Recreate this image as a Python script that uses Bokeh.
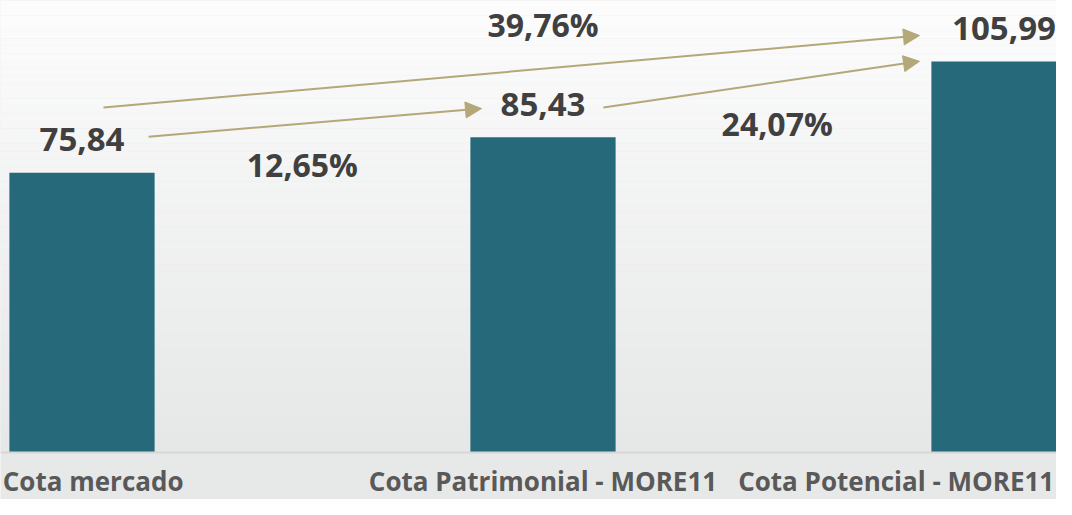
from bokeh.plotting import figure
from bokeh.models import Range1d, Arrow, NormalHead, Span, ColumnDataSource
from bokeh.core.properties import value
from bokeh.embed import file_html
from bokeh.resources import INLINE
import numpy as np

# ---- data ----
categories = ["Cota mercado", "Cota Patrimonial - MORE11", "Cota Potencial - MORE11"]
values = [75.84, 85.43, 105.99]
value_labels = ["75,84", "85,43", "105,99"]
pct_labels = ["12,65%", "39,76%", "24,07%"]

FONT = "Open Sans"
BAR = "#26697a"
TXT = "#404040"
CAT = "#595959"
ARW = "#b4a878"

W, H = 1056, 499
# pixel mapping: x_px = 81.5 + 461*d ; y_px = 452 - 3.69*v
x0 = (0 - 81.5) / 461
x1 = (W - 81.5) / 461
yt = (452 - 0) / 3.69
yb = (452 - H) / 3.69

p = figure(width=W, height=H, output_backend="svg", toolbar_location=None,
           x_range=Range1d(x0, x1), y_range=Range1d(yb, yt),
           min_border=0)
p.axis.visible = False
p.grid.visible = False
p.outline_line_color = None
p.background_fill_color = "#e7e8e8"
p.border_fill_color = "#ffffff"

# background gradient (decoration)
nb = 60
edges = np.linspace(0.0, yt, nb + 1)
c_top = np.array([253, 253, 253])
c_bot = np.array([230, 231, 231])
cols = []
for i in range(nb):
    t = (i + 0.5) / nb
    c = (c_bot + (c_top - c_bot) * t).astype(int)
    cols.append("#%02x%02x%02x" % tuple(c))
p.quad(left=-1, right=3, bottom=edges[:-1], top=edges[1:], fill_color=cols,
       line_color=None)

xs = list(range(len(categories)))
src = ColumnDataSource(dict(x=xs, top=values, vl=value_labels, cat=categories))

p.vbar(x="x", top="top", width=0.315, source=src, fill_color=BAR, line_color=None)
p.add_layout(Span(location=0, dimension="width", line_color="#d6d7d7", line_width=2))

p.text(x="x", y="top", text="vl", source=src, y_offset=-33,
       text_align="center", text_baseline="alphabetic",
       text_font=value(FONT), text_font_style="bold", text_font_size="33px",
       text_color=TXT)

# category labels (kept inside the canvas)
cat_y = -7.6
cat_style = dict(text_baseline="alphabetic", text_font=value(FONT),
                 text_font_style="bold", text_font_size="26px", text_color=CAT)
p.text(x=[x0 + 0.005], y=[cat_y], text=[categories[0]], text_align="left", **cat_style)
p.text(x=[1], y=[cat_y], text=[categories[1]], text_align="center", **cat_style)
p.text(x=[x1 - 0.005], y=[cat_y], text=[categories[2]], text_align="right", **cat_style)

# percentage labels
pct_x = [0.478, 1.0, 1.508]
pct_y = [78.1, 116.0, 89.2]
p.text(x=pct_x, y=pct_y, text=pct_labels,
       text_align="center", text_baseline="alphabetic",
       text_font=value(FONT), text_font_style="bold", text_font_size="32px",
       text_color=TXT)

# arrows
arrows = [
    (0.0466, 93.5, 1.8167, 113.0),
    (0.1443, 85.6, 0.8666, 93.2),
    (1.131, 93.5, 1.8167, 106.0),
]
for xs_, ys_, xe, ye in arrows:
    p.add_layout(Arrow(end=NormalHead(size=16, fill_color=ARW, line_color=ARW),
                       x_start=xs_, y_start=ys_, x_end=xe, y_end=ye,
                       line_color=ARW, line_width=2))

open("out.html", "w").write(file_html(p, INLINE))
